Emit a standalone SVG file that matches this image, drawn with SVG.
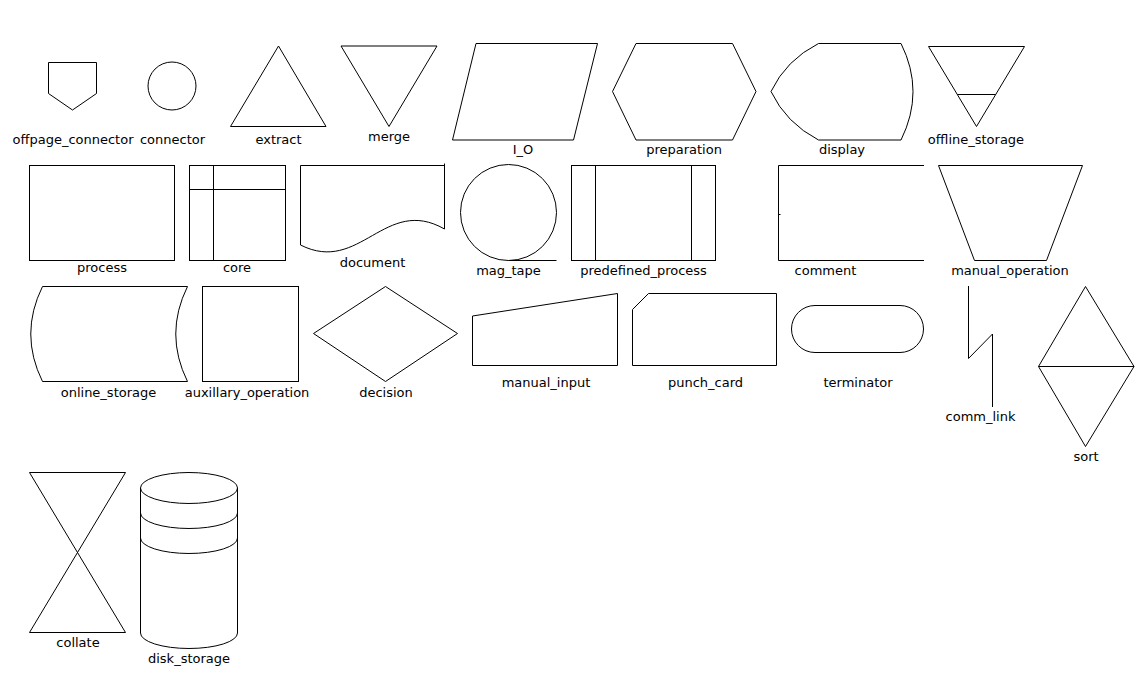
<svg xmlns="http://www.w3.org/2000/svg" width="1144" height="676" viewBox="0 0 1144 676">
<style>
.s{fill:none;stroke:#000;stroke-width:1}
text{font-family:"DejaVu Sans","Liberation Sans",sans-serif;font-size:13px;fill:#000;text-anchor:middle}
</style>
<rect x="0" y="0" width="1144" height="676" fill="#fff"/>
<g id="offpage_connector"><polygon class="s" points="48.5,62.5 96.5,62.5 96.5,93.5 72.5,110 48.5,93.5"/><text x="73" y="143.5">offpage_connector</text></g>
<g id="connector"><circle class="s" cx="172" cy="86" r="24"/><text x="172.5" y="143.5">connector</text></g>
<g id="extract"><polygon class="s" points="278.5,46 326,126.5 230.5,126.5"/><text x="278.5" y="143.5">extract</text></g>
<g id="merge"><polygon class="s" points="341,46 437,46 389,126.5"/><text x="389" y="140.5">merge</text></g>
<g id="I_O"><polygon class="s" points="476,43.5 597.5,43.5 573.5,140 452.5,140"/><text x="523" y="154">I_O</text></g>
<g id="preparation"><polygon class="s" points="636,43.5 732.5,43.5 756,91.5 732.5,140 636,140 612.5,91.5"/><text x="684" y="154">preparation</text></g>
<g id="display"><path class="s" d="M818.5,43.5 L901,43.5 Q925,91.5 901,140 L818.5,140 Q786,123 771,91.5 Q786,60 818.5,43.5 Z"/><text x="842" y="154">display</text></g>
<g id="offline_storage"><polygon class="s" points="928.5,46.5 1024.5,46.5 976.5,126.5"/><line class="s" x1="957.5" y1="94.5" x2="995.5" y2="94.5"/><text x="976" y="143.5">offline_storage</text></g>
<g id="process"><rect class="s" x="29.5" y="165.5" width="145" height="95"/><text x="102" y="272">process</text></g>
<g id="core"><rect class="s" x="189.5" y="165.5" width="96" height="95"/><line class="s" x1="213.5" y1="165.5" x2="213.5" y2="260.5"/><line class="s" x1="189.5" y1="189.5" x2="285.5" y2="189.5"/><text x="237" y="272">core</text></g>
<g id="document"><path class="s" d="M300.5,165.5 L444.5,165.5 M444.5,163.5 L444.5,229 C385,195 360,275 300.5,245 L300.5,165.5"/><text x="372.5" y="267">document</text></g>
<g id="mag_tape"><circle class="s" cx="508.5" cy="212.5" r="48"/><line class="s" x1="508.5" y1="260.5" x2="556.5" y2="260.5"/><text x="508.5" y="275">mag_tape</text></g>
<g id="predefined_process"><rect class="s" x="571.5" y="165.5" width="144" height="95"/><line class="s" x1="595.5" y1="165.5" x2="595.5" y2="260.5"/><line class="s" x1="691.5" y1="165.5" x2="691.5" y2="260.5"/><text x="643.5" y="275">predefined_process</text></g>
<g id="comment"><path class="s" d="M924,165.5 L778.5,165.5 L778.5,260.5 L924,260.5 M778.5,214.5 L780.5,214.5"/><text x="825.5" y="275">comment</text></g>
<g id="manual_operation"><polygon class="s" points="938.5,165.5 1082.5,165.5 1046.5,260.5 974.5,260.5"/><text x="1010" y="275">manual_operation</text></g>
<g id="online_storage"><path class="s" d="M42.5,286.5 L187.5,286.5 Q164,334 187.5,381.5 L42.5,381.5 Q19,334 42.5,286.5 Z"/><text x="108.5" y="397">online_storage</text></g>
<g id="auxillary_operation"><rect class="s" x="202.5" y="286.5" width="96" height="95"/><text x="247" y="397">auxillary_operation</text></g>
<g id="decision"><polygon class="s" points="385.5,286.5 457.5,333.5 385.5,381.5 313.5,333.5"/><text x="386" y="397">decision</text></g>
<g id="manual_input"><polygon class="s" points="472.5,316 617.5,293.5 617.5,365.5 472.5,365.5"/><text x="546" y="386.5">manual_input</text></g>
<g id="punch_card"><polygon class="s" points="648.5,293.5 776.5,293.5 776.5,365.5 632.5,365.5 632.5,309.5"/><text x="705.5" y="386.5">punch_card</text></g>
<g id="terminator"><rect class="s" x="791.5" y="305.5" width="132" height="47" rx="23.5" ry="23.5"/><text x="858" y="386.5">terminator</text></g>
<g id="comm_link"><polyline class="s" points="968.5,286 968.5,358.5 992.5,334 992.5,407"/><text x="980.5" y="421">comm_link</text></g>
<g id="sort"><polygon class="s" points="1085.5,286.5 1134,366.5 1085.5,446.5 1038.5,366.5"/><line class="s" x1="1038.5" y1="366.5" x2="1134" y2="366.5"/><text x="1086" y="461">sort</text></g>
<g id="collate"><polygon class="s" points="29.5,472.5 125.5,472.5 29.5,632.5 125.5,632.5"/><text x="78" y="646.5">collate</text></g>
<g id="disk_storage"><path class="s" d="M140.5,488 L140.5,633 A48.5,15.5 0 0 0 237.5,633 L237.5,488 A48.5,15.5 0 0 0 140.5,488 A48.5,15.5 0 0 0 237.5,488 M140.5,513 A48.5,15.5 0 0 0 237.5,513 M140.5,538 A48.5,15.5 0 0 0 237.5,538"/><text x="189" y="663">disk_storage</text></g>
<g id="connectors"></g>
</svg>
